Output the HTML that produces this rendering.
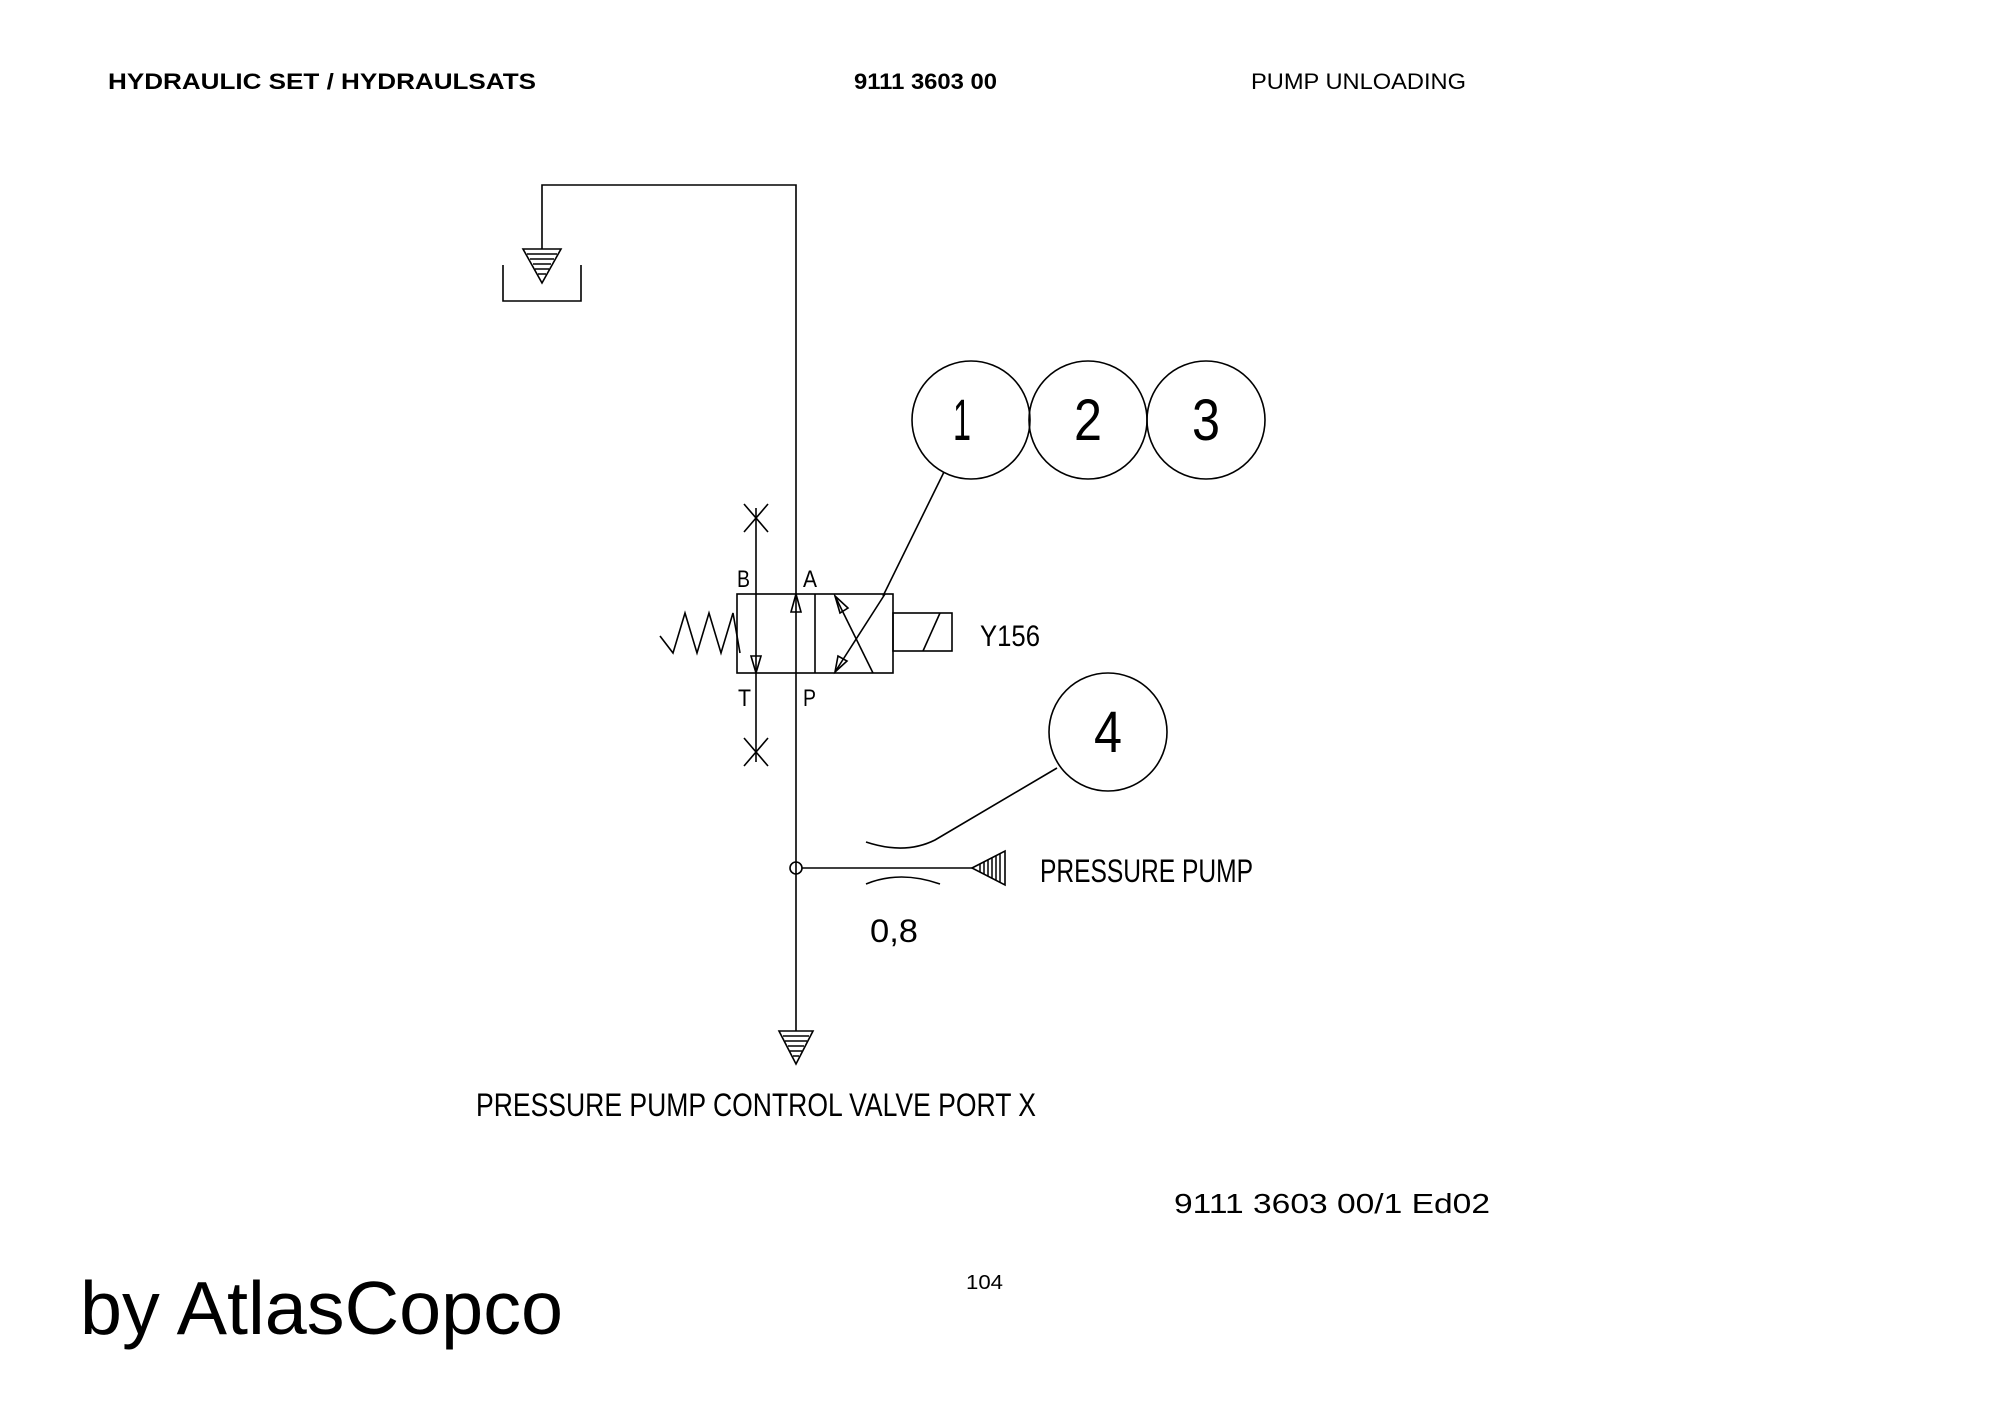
<!DOCTYPE html>
<html><head><meta charset="utf-8"><style>
html,body{margin:0;padding:0;background:#fff;}
svg{display:block;}
.h{font-family:"Liberation Sans",Arial,sans-serif;font-weight:bold;font-size:22px;fill:#000;}
.c{font-family:"Liberation Sans",Arial,sans-serif;fill:#000;font-weight:300;}
</style></head><body>
<svg width="2000" height="1415" viewBox="0 0 2000 1415" xmlns="http://www.w3.org/2000/svg">
<g stroke="#000" stroke-width="1.6" fill="none">
<!-- tank line -->
<polyline points="542,262 542,185 796,185 796,1040"/>
<polyline points="503,265 503,301 581,301 581,265"/>
<!-- circles -->
<circle cx="971" cy="420" r="59"/>
<circle cx="1088" cy="420" r="59"/>
<circle cx="1206" cy="420" r="59"/>
<line x1="944" y1="472" x2="883" y2="596"/>
<!-- valve -->
<rect x="737" y="594" width="156" height="79"/>
<line x1="815" y1="594" x2="815" y2="673"/>
<rect x="893" y="613" width="59" height="38"/>
<line x1="923" y1="651" x2="940" y2="613"/>
<polyline points="660,636 673,653 685,613 697,653 709,613 721,653 733,613 740,653"/>
<line x1="756" y1="508" x2="756" y2="762"/>
<line x1="744" y1="504" x2="768" y2="532"/><line x1="768" y1="504" x2="744" y2="532"/>
<line x1="744" y1="738" x2="768" y2="766"/><line x1="768" y1="738" x2="744" y2="766"/>
<polygon points="756,673 751,656 761,656"/>
<polygon points="796,594 791,612 801,612"/>
<line x1="835" y1="596" x2="873" y2="673"/>
<line x1="885" y1="594" x2="835" y2="672"/>
<polygon points="835,596 848,608 840,613"/>
<polygon points="835,672 838,656 847,661"/>
<!-- circle 4 -->
<circle cx="1108" cy="732" r="59"/>
<path d="M1057,768 L935,840 Q905,855 866,842"/>
<path d="M866,884 Q900,870 940,884"/>
<circle cx="796" cy="868" r="6"/>
<line x1="802" y1="868" x2="975" y2="868"/>
</g>
<!-- pump triangle -->
<polygon points="972,868 1005,851 1005,885" fill="#fff" stroke="#000" stroke-width="1.6"/>
<g stroke="#000" stroke-width="1.5">
<line x1="980" y1="864" x2="980" y2="872"/><line x1="984" y1="862" x2="984" y2="874"/>
<line x1="988" y1="860" x2="988" y2="876"/><line x1="992" y1="858" x2="992" y2="878"/>
<line x1="996" y1="856" x2="996" y2="880"/><line x1="1000" y1="854" x2="1000" y2="882"/>
</g>
<!-- tank arrow -->
<polygon points="523,249 561,249 542,283" fill="#fff" stroke="#000" stroke-width="1.6"/>
<g stroke="#000" stroke-width="1.5">
<line x1="527" y1="254" x2="557" y2="254"/><line x1="530" y1="259" x2="554" y2="259"/>
<line x1="533" y1="264" x2="551" y2="264"/><line x1="535" y1="269" x2="549" y2="269"/>
<line x1="538" y1="274" x2="546" y2="274"/>
</g>
<!-- bottom arrow -->
<polygon points="779,1031 813,1031 796,1064" fill="#fff" stroke="#000" stroke-width="1.6"/>
<g stroke="#000" stroke-width="1.5">
<line x1="783" y1="1036" x2="809" y2="1036"/><line x1="785" y1="1041" x2="807" y2="1041"/>
<line x1="788" y1="1046" x2="804" y2="1046"/><line x1="790" y1="1051" x2="802" y2="1051"/>
<line x1="793" y1="1056" x2="799" y2="1056"/>
</g>
<!-- header -->
<text class="h" x="108" y="89" textLength="428" lengthAdjust="spacingAndGlyphs">HYDRAULIC SET / HYDRAULSATS</text>
<text class="h" x="854" y="89" textLength="143" lengthAdjust="spacingAndGlyphs">9111 3603 00</text>
<text class="c" x="1251" y="89" font-size="22" textLength="215" lengthAdjust="spacingAndGlyphs">PUMP UNLOADING</text>
<!-- CAD labels -->
<g class="c">
<text x="953" y="440" font-size="58" textLength="18" lengthAdjust="spacingAndGlyphs">1</text>
<text x="1074" y="440" font-size="58" textLength="28" lengthAdjust="spacingAndGlyphs">2</text>
<text x="1192" y="440" font-size="58" textLength="28" lengthAdjust="spacingAndGlyphs">3</text>
<text x="1094" y="752" font-size="58" textLength="28" lengthAdjust="spacingAndGlyphs">4</text>
<text x="737" y="587" font-size="24" textLength="13" lengthAdjust="spacingAndGlyphs">B</text>
<text x="803" y="587" font-size="24" textLength="14" lengthAdjust="spacingAndGlyphs">A</text>
<text x="738" y="706" font-size="24" textLength="13" lengthAdjust="spacingAndGlyphs">T</text>
<text x="803" y="706" font-size="24" textLength="13" lengthAdjust="spacingAndGlyphs">P</text>
<text x="980" y="646" font-size="30" textLength="60" lengthAdjust="spacingAndGlyphs">Y156</text>
<text x="1040" y="882" font-size="32" textLength="213" lengthAdjust="spacingAndGlyphs">PRESSURE PUMP</text>
<text x="870" y="942" font-size="32" textLength="48" lengthAdjust="spacingAndGlyphs">0,8</text>
<text x="476" y="1116" font-size="32" textLength="560" lengthAdjust="spacingAndGlyphs">PRESSURE PUMP CONTROL VALVE PORT X</text>
</g>
<!-- footer -->
<text x="1174" y="1213" font-family="Liberation Sans, Arial, sans-serif" font-size="28" textLength="316" lengthAdjust="spacingAndGlyphs">9111 3603 00/1  Ed02</text>
<text x="966" y="1289" font-family="Liberation Sans, Arial, sans-serif" font-size="20" textLength="37" lengthAdjust="spacingAndGlyphs">104</text>
<text x="80" y="1334" font-family="Liberation Sans, Arial, sans-serif" font-size="75" textLength="483" lengthAdjust="spacingAndGlyphs">by AtlasCopco</text>
</svg>
</body></html>
